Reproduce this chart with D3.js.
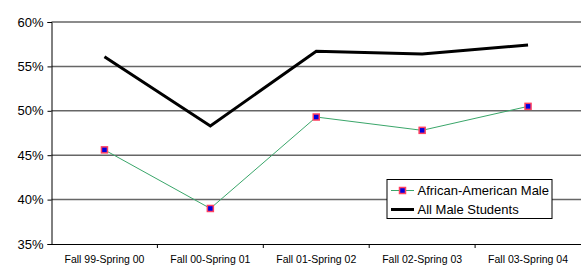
<!DOCTYPE html>
<html><head><meta charset="utf-8">
<script src="https://cdn.jsdelivr.net/npm/d3@7"></script>
<style>body{margin:0;background:#fff}svg{display:block}</style>
</head><body>
<script>
const categories = ["Fall 99-Spring 00","Fall 00-Spring 01","Fall 01-Spring 02","Fall 02-Spring 03","Fall 03-Spring 04"];
const africanAmericanMale = [45.6, 39.0, 49.3, 47.8, 50.5];
const allMaleStudents = [56.1, 48.3, 56.7, 56.4, 57.4];
const yTicks = [35, 40, 45, 50, 55, 60];

const W = 581, H = 265;
const m = {left: 51.5, right: 0, top: 22, bottom: 21};
const svg = d3.select("body").append("svg").attr("width", W).attr("height", H);
const x = d3.scaleBand().domain(categories).range([m.left, W - m.right]);
const y = d3.scaleLinear().domain([35, 60]).range([H - m.bottom, m.top]);
const font = "Liberation Sans, Arial, sans-serif";

// gridlines
svg.append("g").selectAll("line").data(yTicks.slice(1)).join("line")
  .attr("x1", m.left).attr("x2", W).attr("y1", d => y(d)).attr("y2", d => y(d))
  .attr("stroke", "#666").attr("stroke-width", 1.5);

// y axis
const ya = svg.append("g").attr("transform", `translate(${m.left},0)`)
  .call(d3.axisLeft(y).tickValues(yTicks).tickFormat(d => d + "%").tickSize(4).tickPadding(4));
ya.select(".domain").attr("stroke", "#000");
ya.selectAll("text").attr("font-family", font).attr("font-size", 13).attr("fill", "#000");

// x axis
const xa = svg.append("g").attr("transform", `translate(0,${y(35)})`)
  .call(d3.axisBottom(x).tickSize(0).tickPadding(11.5));
xa.select(".domain").attr("stroke", "#000");
xa.selectAll("text").attr("font-family", font).attr("font-size", 10.5).attr("fill", "#000");
xa.selectAll(".bound").data(categories.slice(1)).join("line").attr("class","bound")
  .attr("x1", d => x(d)).attr("x2", d => x(d)).attr("y1", 0).attr("y2", 4).attr("stroke", "#000");

const line = d3.line().x((d, i) => x(categories[i]) + x.bandwidth() / 2).y(d => y(d));

svg.append("path").datum(allMaleStudents).attr("d", line)
  .attr("fill", "none").attr("stroke", "#000").attr("stroke-width", 3);

svg.append("path").datum(africanAmericanMale).attr("d", line)
  .attr("fill", "none").attr("stroke", "#3aa66a").attr("stroke-width", 1);

svg.append("g").selectAll("rect").data(africanAmericanMale).join("rect")
  .attr("x", (d, i) => x(categories[i]) + x.bandwidth() / 2 - 3)
  .attr("y", d => y(d) - 3).attr("width", 6).attr("height", 6)
  .attr("fill", "#0000e0").attr("stroke", "#ff4060").attr("stroke-width", 1.5);

// legend
const lg = svg.append("g").attr("transform", "translate(387,179.5)");
lg.append("rect").attr("x", 0).attr("y", 0).attr("width", 165).attr("height", 39)
  .attr("fill", "#fff").attr("stroke", "#000").attr("stroke-width", 1);
lg.append("line").attr("x1", 4).attr("x2", 27).attr("y1", 11).attr("y2", 11).attr("stroke", "#3aa66a").attr("stroke-width", 1);
lg.append("rect").attr("x", 12.5).attr("y", 8).attr("width", 6).attr("height", 6)
  .attr("fill", "#0000e0").attr("stroke", "#ff4060").attr("stroke-width", 1.5);
lg.append("line").attr("x1", 4).attr("x2", 27).attr("y1", 30).attr("y2", 30).attr("stroke", "#000").attr("stroke-width", 3);
lg.append("text").attr("x", 30.5).attr("y", 15).text("African-American Male")
  .attr("font-family", font).attr("font-size", 13);
lg.append("text").attr("x", 30.5).attr("y", 34.5).text("All Male Students")
  .attr("font-family", font).attr("font-size", 13);
</script>
</body></html>
